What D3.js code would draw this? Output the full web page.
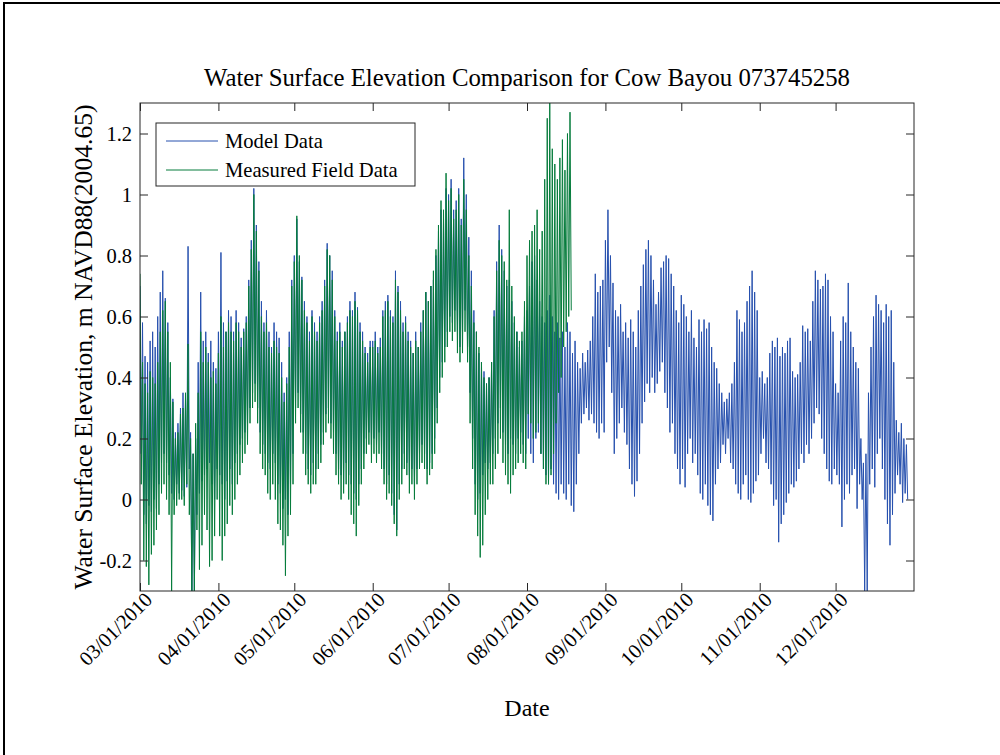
<!DOCTYPE html>
<html>
<head>
<meta charset="utf-8">
<script src="https://cdn.jsdelivr.net/npm/d3@7"></script>
<style>
  body { margin: 0; background: #fff; }
  svg { display: block; }
</style>
</head>
<body>
<svg id="chart" width="1000" height="755"></svg>
<script>
// daily high / low water levels (m), one row per month
const modelStart = "2010-03-01";
const modelHigh = [
  0.70,0.58,0.47,0.45,0.52,0.55,0.50,0.60,0.68,0.75,0.66,0.58,0.40,0.33,0.22,0.25,0.30,0.35,0.33,0.83,0.22,0.15,0.20,0.45,0.68,0.52,0.55,0.48,0.52,0.45,0.43, // mar
  0.55,0.81,0.58,0.55,0.62,0.60,0.55,0.62,0.58,0.53,0.56,0.60,0.72,0.85,1.02,0.90,0.78,0.65,0.58,0.62,0.55,0.50,0.58,0.55,0.53,0.45,0.35,0.40,0.55,0.72, // apr
  0.80,0.92,0.78,0.73,0.65,0.60,0.55,0.62,0.58,0.55,0.60,0.65,0.72,0.84,0.80,0.75,0.62,0.55,0.58,0.52,0.55,0.60,0.65,0.62,0.68,0.63,0.58,0.55,0.50,0.48,0.52, // may
  0.52,0.55,0.50,0.53,0.62,0.65,0.67,0.62,0.60,0.75,0.70,0.65,0.58,0.60,0.55,0.52,0.48,0.55,0.50,0.58,0.62,0.68,0.65,0.70,0.72,0.80,0.88,0.95,0.92,1.02, // jun
  1.00,1.05,0.95,0.98,1.02,0.92,1.12,1.00,0.86,0.75,0.62,0.55,0.48,0.45,0.42,0.38,0.40,0.45,0.62,0.78,0.90,0.82,0.75,0.70,0.72,0.65,0.58,0.55,0.50,0.52,0.60, // jul
  0.62,0.70,0.78,0.80,0.72,0.65,0.60,0.58,0.62,0.67,0.60,0.55,0.58,0.53,0.55,0.50,0.58,0.55,0.48,0.52,0.45,0.43,0.48,0.45,0.49,0.52,0.60,0.74,0.68,0.70,0.72, // aug
  0.85,0.95,0.80,0.71,0.62,0.60,0.64,0.55,0.58,0.53,0.59,0.55,0.50,0.62,0.70,0.77,0.82,0.85,0.80,0.72,0.64,0.68,0.76,0.78,0.80,0.79,0.74,0.70,0.62,0.58, // sep
  0.67,0.64,0.60,0.55,0.62,0.53,0.50,0.59,0.55,0.59,0.56,0.58,0.50,0.45,0.43,0.38,0.35,0.32,0.33,0.35,0.38,0.45,0.62,0.59,0.55,0.58,0.65,0.70,0.75,0.68,0.62, // oct
  0.40,0.42,0.38,0.40,0.48,0.52,0.50,0.53,0.47,0.50,0.48,0.52,0.53,0.42,0.40,0.41,0.45,0.57,0.55,0.56,0.52,0.65,0.75,0.72,0.69,0.70,0.74,0.72,0.60,0.55, // nov
  0.38,0.35,0.52,0.60,0.58,0.71,0.55,0.50,0.45,0.43,0.20,0.12,0.15,0.35,0.50,0.60,0.67,0.64,0.62,0.58,0.64,0.60,0.62,0.45,0.26,0.22,0.25,0.20,0.18 // dec
];
const modelLow = [
  0.15,-0.05,-0.08,-0.02,-0.04,0.00,-0.03,0.05,0.12,0.15,0.12,0.08,0.02,0.00,0.05,0.02,0.03,0.01,0.04,0.10,-0.30,-0.30,-0.05,0.02,0.06,0.08,0.10,0.12,0.05,0.00,0.10,
  0.08,0.05,0.00,0.06,0.10,0.05,0.12,0.15,0.18,0.20,0.22,0.25,0.30,0.35,0.38,0.30,0.22,0.18,0.15,0.12,0.10,0.15,0.12,0.05,0.02,-0.03,0.00,-0.05,0.05,0.15,
  0.30,0.35,0.28,0.22,0.15,0.10,0.08,0.12,0.10,0.15,0.18,0.22,0.28,0.30,0.25,0.22,0.15,0.10,0.08,0.05,0.12,0.08,0.05,0.02,0.00,0.05,0.10,0.15,0.20,0.22,0.18,
  0.20,0.18,0.22,0.15,0.10,0.05,0.08,0.02,-0.05,-0.10,0.05,0.10,0.15,0.12,0.08,0.10,0.05,0.10,0.15,0.18,0.15,0.10,0.12,0.15,0.20,0.30,0.40,0.45,0.50,0.55,
  0.60,0.58,0.62,0.55,0.50,0.55,0.62,0.50,0.35,0.20,0.05,0.00,0.02,0.08,0.12,0.10,0.12,0.15,0.20,0.25,0.30,0.22,0.18,0.15,0.20,0.18,0.15,0.20,0.22,0.18,0.15,
  0.20,0.15,0.12,0.20,0.22,0.15,0.10,0.08,0.05,0.10,0.05,0.02,0.00,0.05,0.02,0.00,0.05,-0.02,-0.04,0.05,0.15,0.25,0.28,0.30,0.26,0.28,0.25,0.22,0.20,0.25,0.22,
  0.45,0.50,0.35,0.15,0.20,0.25,0.30,0.22,0.18,0.10,0.05,0.01,0.06,0.15,0.25,0.32,0.38,0.35,0.40,0.35,0.38,0.42,0.45,0.35,0.30,0.22,0.25,0.15,0.10,0.05,
  0.10,0.04,0.15,0.20,0.12,0.15,0.08,0.02,0.00,0.05,-0.02,-0.05,-0.07,0.05,0.10,0.12,0.18,0.15,0.20,0.12,0.10,0.05,0.02,0.00,0.05,0.08,0.00,-0.01,0.02,0.06,0.08,
  0.15,0.20,0.12,0.10,0.05,-0.02,0.00,-0.14,-0.08,-0.05,-0.01,0.02,0.05,0.04,0.06,0.10,0.15,0.12,0.18,0.15,0.20,0.25,0.30,0.28,0.20,0.15,0.10,0.06,0.05,0.10,
  0.08,0.05,-0.09,0.00,0.05,0.02,0.08,0.10,-0.03,0.05,0.00,-0.30,-0.30,0.05,0.10,0.04,0.15,0.20,0.10,0.00,-0.08,-0.15,-0.05,0.02,0.08,0.05,-0.01,0.02,0.00
];

const fieldStart = "2010-03-01";
const fieldHigh = [
  0.74,0.45,0.38,0.35,0.42,0.40,0.38,0.45,0.55,0.62,0.65,0.55,0.45,0.32,0.20,0.22,0.28,0.30,0.35,0.51,0.20,0.15,0.25,0.35,0.55,0.45,0.50,0.45,0.40,0.42,0.38,
  0.48,0.60,0.50,0.55,0.58,0.55,0.52,0.58,0.55,0.50,0.55,0.58,0.70,0.82,1.00,0.88,0.75,0.60,0.55,0.58,0.50,0.48,0.52,0.50,0.48,0.40,0.32,0.38,0.50,0.70,
  0.78,0.93,0.80,0.72,0.62,0.58,0.52,0.60,0.55,0.52,0.58,0.62,0.70,0.82,0.80,0.72,0.60,0.52,0.55,0.50,0.55,0.58,0.62,0.60,0.65,0.62,0.55,0.52,0.48,0.45,0.50,
  0.50,0.52,0.48,0.50,0.60,0.62,0.65,0.60,0.58,0.72,0.68,0.62,0.55,0.58,0.52,0.50,0.48,0.52,0.50,0.55,0.62,0.68,0.65,0.70,0.75,0.82,0.90,0.98,0.95,1.07,
  0.98,1.02,0.92,0.95,1.00,0.90,1.05,0.95,0.80,0.70,0.58,0.55,0.50,0.45,0.40,0.38,0.40,0.45,0.60,0.75,0.85,0.80,0.78,0.72,0.95,0.70,0.60,0.55,0.52,0.55,0.65,
  0.80,0.85,0.88,0.90,0.95,0.82,0.88,1.05,1.25,1.30,1.15,1.10,1.05,1.12,1.18,1.08,1.20,1.27
];
const fieldLow = [
  0.05,-0.20,-0.22,-0.28,-0.18,-0.15,-0.10,-0.05,0.02,0.05,0.00,-0.05,-0.30,-0.05,-0.02,0.00,0.00,-0.02,0.05,-0.05,-0.30,-0.30,-0.10,-0.23,-0.15,-0.05,-0.10,-0.22,-0.20,-0.12,0.00,
  -0.12,-0.20,-0.12,-0.08,-0.02,-0.05,0.00,0.05,0.08,0.12,0.15,0.18,0.25,0.30,0.32,0.25,0.15,0.10,0.08,0.02,0.00,0.05,0.00,-0.08,-0.10,-0.15,-0.25,-0.12,-0.05,0.05,
  0.25,0.30,0.22,0.15,0.08,0.05,0.02,0.05,0.05,0.10,0.12,0.18,0.22,0.25,0.20,0.15,0.08,0.05,0.00,0.02,0.05,0.00,-0.05,-0.08,-0.12,-0.02,0.05,0.10,0.15,0.18,0.12,
  0.15,0.12,0.15,0.10,0.05,0.00,0.02,-0.02,-0.08,-0.12,0.00,0.05,0.10,0.08,0.02,0.05,0.00,0.05,0.10,0.12,0.10,0.05,0.08,0.10,0.15,0.25,0.35,0.40,0.45,0.50,
  0.55,0.52,0.55,0.48,0.45,0.48,0.55,0.45,0.25,0.10,-0.05,-0.12,-0.19,-0.15,-0.05,0.00,0.05,0.05,0.10,0.15,0.20,0.12,0.08,0.05,0.02,0.08,0.10,0.12,0.15,0.12,0.10,
  0.28,0.25,0.20,0.22,0.25,0.15,0.10,0.05,0.05,0.08,0.15,0.25,0.35,0.40,0.50,0.55,0.60,0.62
];

const xTicks = ["2010-03-01","2010-04-01","2010-05-01","2010-06-01","2010-07-01","2010-08-01","2010-09-01","2010-10-01","2010-11-01","2010-12-01"];
const yTicks = [-0.2, 0, 0.2, 0.4, 0.6, 0.8, 1, 1.2];
const seriesNames = ["Model Data", "Measured Field Data"];

const width = 1000, height = 755;
const margin = { top: 103, right: 86, bottom: 164, left: 140 };
const font = "'Liberation Serif', 'Times New Roman', serif";
const blue = "#2650ae", green = "#067c3c", axisColor = "#262626";

const svg = d3.select("#chart");
const parse = d3.utcParse("%Y-%m-%d");

// outer frame of the figure
svg.append("rect")
    .attr("x", 4).attr("y", 3)
    .attr("width", width + 10).attr("height", height + 10)
    .attr("fill", "none").attr("stroke", "#000").attr("stroke-width", 2);

const scaleX = d3.scaleUtc()
    .domain([parse("2010-03-01"), parse("2011-01-01")])
    .range([margin.left, width - margin.right]);
const scaleY = d3.scaleLinear()
    .domain([-0.3, 1.3])
    .range([height - margin.bottom, margin.top]);

// turn high/low pairs into a zig-zag time series
function toPoints(start, highs, lows) {
  const t0 = parse(start);
  const pts = [];
  highs.forEach((h, i) => {
    pts.push({ t: d3.utcHour.offset(t0, i * 24), v: h });
    pts.push({ t: d3.utcHour.offset(t0, i * 24 + 12), v: lows[i] });
  });
  return pts;
}
const modelPts = toPoints(modelStart, modelHigh, modelLow);
const fieldPts = toPoints(fieldStart, fieldHigh, fieldLow);

svg.append("clipPath").attr("id", "plot-clip")
  .append("rect")
    .attr("x", margin.left).attr("y", margin.top)
    .attr("width", scaleX.range()[1] - margin.left)
    .attr("height", scaleY.range()[0] - margin.top);

const line = d3.line()
    .x(d => scaleX(d.t))
    .y(d => scaleY(d.v));

const plot = svg.append("g").attr("clip-path", "url(#plot-clip)");
plot.append("path")
    .attr("fill", "none").attr("stroke", blue).attr("stroke-width", 1)
    .attr("d", line(modelPts));
plot.append("path")
    .attr("fill", "none").attr("stroke", green).attr("stroke-width", 1)
    .attr("d", line(fieldPts));

// axes, ticks pointing inward like matlab
const xTickDates = xTicks.map(parse);
const fmt = d3.utcFormat("%m/%d/%Y");

const xAxis = svg.append("g")
    .attr("transform", `translate(0,${scaleY.range()[0]})`)
    .call(d3.axisBottom(scaleX).tickValues(xTickDates).tickFormat(fmt).tickSizeInner(-8).tickSizeOuter(0));
xAxis.selectAll("text")
    .attr("x", 0).attr("y", 0).attr("dy", null)
    .attr("text-anchor", "end")
    .attr("transform", "translate(13,10) rotate(-45)");

svg.append("g")
    .attr("transform", `translate(0,${margin.top})`)
    .call(d3.axisTop(scaleX).tickValues(xTickDates).tickFormat("").tickSizeInner(-8).tickSizeOuter(0));

svg.append("g")
    .attr("transform", `translate(${margin.left},0)`)
    .call(d3.axisLeft(scaleY).tickValues(yTicks).tickFormat(d => String(Math.round(d * 10) / 10)).tickSizeInner(-8).tickSizeOuter(0).tickPadding(8));

svg.append("g")
    .attr("transform", `translate(${scaleX.range()[1]},0)`)
    .call(d3.axisRight(scaleY).tickValues(yTicks).tickFormat("").tickSizeInner(-8).tickSizeOuter(0));

svg.selectAll(".domain").remove();
svg.selectAll(".tick line").attr("stroke", axisColor);
svg.selectAll(".tick text")
    .style("font-family", font).style("font-size", "20.5px").attr("fill", "#000");

// axes box
svg.append("rect")
    .attr("x", margin.left).attr("y", margin.top)
    .attr("width", scaleX.range()[1] - margin.left)
    .attr("height", scaleY.range()[0] - margin.top)
    .attr("fill", "none").attr("stroke", axisColor).attr("stroke-width", 1);

// title and axis labels
svg.append("text")
    .text("Water Surface Elevation Comparison for Cow Bayou 073745258")
    .attr("x", (margin.left + scaleX.range()[1]) / 2).attr("y", 86)
    .attr("text-anchor", "middle")
    .style("font-family", font).style("font-size", "24.8px");

svg.append("text")
    .text("Date")
    .attr("x", (margin.left + scaleX.range()[1]) / 2).attr("y", 716)
    .attr("text-anchor", "middle")
    .style("font-family", font).style("font-size", "24px");

svg.append("text")
    .text("Water Surface Elevation, m NAVD88(2004.65)")
    .attr("transform", `translate(92,${(margin.top + scaleY.range()[0]) / 2}) rotate(-90)`)
    .attr("text-anchor", "middle")
    .style("font-family", font).style("font-size", "25.6px");

// legend
const legend = svg.append("g").attr("transform", "translate(156,123)");
legend.append("rect")
    .attr("width", 259).attr("height", 63)
    .attr("fill", "#fff").attr("stroke", axisColor).attr("stroke-width", 1);
const legendColor = d3.scaleOrdinal().domain(seriesNames).range([blue, green]);
const items = legend.selectAll("g.item")
    .data(seriesNames)
    .join("g")
    .attr("class", "item")
    .attr("transform", (d, i) => `translate(0,${18 + i * 29})`);
items.append("line")
    .attr("x1", 10).attr("x2", 62)
    .attr("stroke", d => legendColor(d)).attr("stroke-width", 1);
items.append("text")
    .text(d => d)
    .attr("x", 69).attr("y", 7)
    .style("font-family", font).style("font-size", "20.6px");
</script>
</body>
</html>
